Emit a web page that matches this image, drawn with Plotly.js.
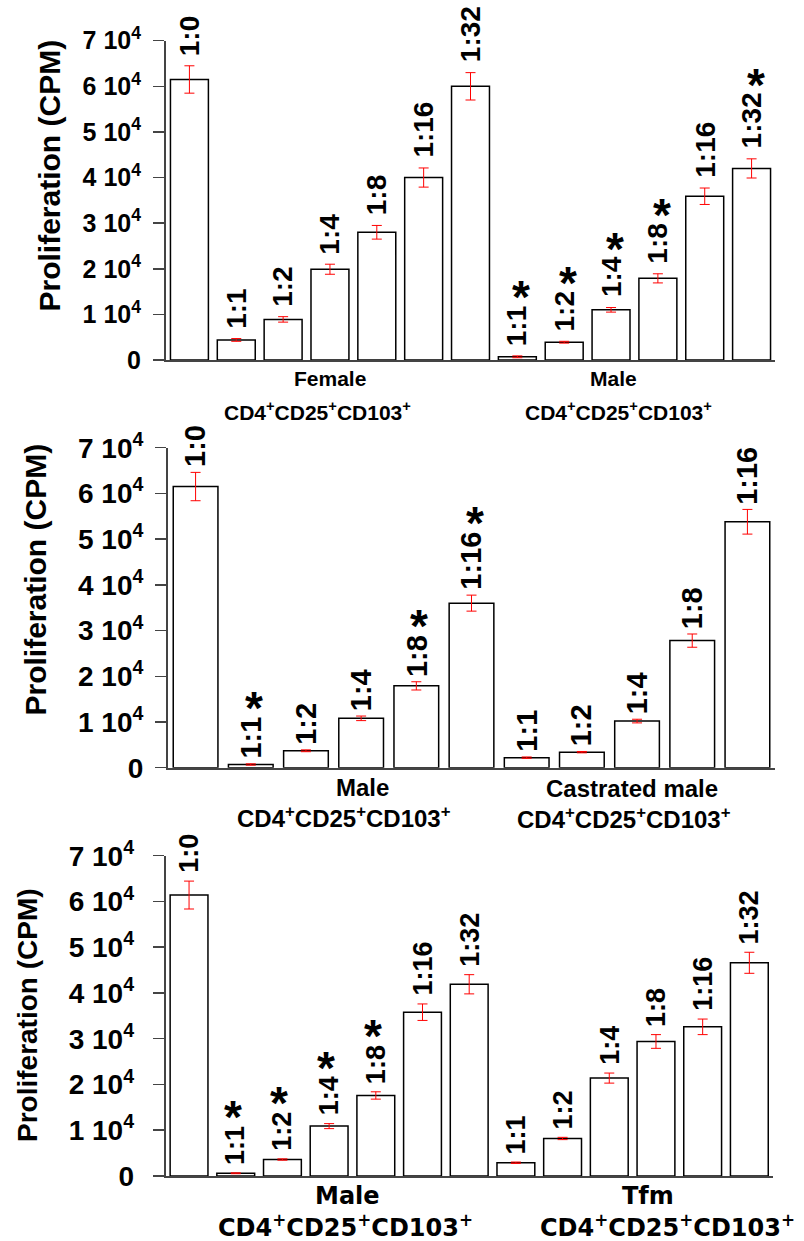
<!DOCTYPE html>
<html>
<head>
<meta charset="utf-8">
<script src="https://cdn.plot.ly/plotly-3.0.1.min.js"></script>
<style>
  html, body { margin: 0; padding: 0; background: #fff; }
  #chart { width: 804px; height: 1241px; }
</style>
</head>
<body>
<div id="chart"></div>
<script>
// ---------------- DATA ----------------
const yTickVals = [0, 10000, 20000, 30000, 40000, 50000, 60000, 70000];
const yTickText = ['0', '1 10<sup>4</sup>', '2 10<sup>4</sup>', '3 10<sup>4</sup>', '4 10<sup>4</sup>',
                   '5 10<sup>4</sup>', '6 10<sup>4</sup>', '7 10<sup>4</sup>'];
const yTitle = 'Proliferation (CPM)';
const cellLine = 'CD4<sup>+</sup>CD25<sup>+</sup>CD103<sup>+</sup>';

// Panel 1: Female vs Male
const p1Groups = ['Control', 'Female', 'Female', 'Female', 'Female', 'Female', 'Female',
                  'Male', 'Male', 'Male', 'Male', 'Male', 'Male'];
const p1Ratios = ['1:0', '1:1', '1:2', '1:4', '1:8', '1:16', '1:32', '1:1', '1:2', '1:4', '1:8', '1:16', '1:32'];
const p1Values = [61500, 4400, 8900, 19900, 28000, 40000, 60000, 700, 3900, 11000, 17900, 35900, 42000];
const p1Errors = [3000, 300, 600, 1100, 1500, 2100, 3000, 200, 200, 500, 1000, 1800, 2100];
const p1Signif = [false, false, false, false, false, false, false, true, true, true, true, false, true];
const p1GroupNames = ['Female', 'Male'];

// Panel 2: Male vs Castrated male
const p2Groups = ['Control', 'Male', 'Male', 'Male', 'Male', 'Male',
                  'Castrated male', 'Castrated male', 'Castrated male', 'Castrated male', 'Castrated male'];
const p2Ratios = ['1:0', '1:1', '1:2', '1:4', '1:8', '1:16', '1:1', '1:2', '1:4', '1:8', '1:16'];
const p2Values = [61500, 700, 3700, 10800, 17900, 36000, 2200, 3400, 10200, 27800, 53800];
const p2Errors = [3100, 150, 200, 500, 900, 1750, 150, 150, 400, 1450, 2700];
const p2Signif = [false, true, false, false, true, true, false, false, false, false, false];
const p2GroupNames = ['Male', 'Castrated male'];

// Panel 3: Male vs Tfm
const p3Groups = ['Control', 'Male', 'Male', 'Male', 'Male', 'Male', 'Male',
                  'Tfm', 'Tfm', 'Tfm', 'Tfm', 'Tfm', 'Tfm'];
const p3Ratios = ['1:0', '1:1', '1:2', '1:4', '1:8', '1:16', '1:32', '1:1', '1:2', '1:4', '1:8', '1:16', '1:32'];
const p3Values = [61400, 600, 3600, 10900, 17600, 35800, 41900, 2900, 8200, 21400, 29400, 32600, 46600];
const p3Errors = [3050, 100, 150, 550, 800, 1800, 2100, 150, 250, 1100, 1500, 1700, 2300];
const p3Signif = [false, true, true, true, true, false, false, false, false, false, false, false, false];
const p3GroupNames = ['Male', 'Tfm'];

// ---------------- LAYOUT HELPERS ----------------
const W = 804, H = 1241;
const px = x => x / W;
const py = y => 1 - y / H;
const ARIAL = 'Liberation Sans, Arial, sans-serif';
const DEJA = 'DejaVu Sans, sans-serif';
const AST_SIZE = 46;

const canvas = document.createElement('canvas');
const ctx = canvas.getContext('2d');
function textWidth(t, size, fam) {
  ctx.font = 'bold ' + size + 'px ' + fam;
  return ctx.measureText(t).width;
}

const panels = [
  { groups: p1Groups, ratios: p1Ratios, values: p1Values, errors: p1Errors, signif: p1Signif, names: p1GroupNames,
    xdom: [166, 775], ydom: [40.7, 360], tickSize: 25, standoff: 7, titleSize: 30, titlePos: [49, 175.5],
    labelSize: 28, labelGap: 8, astDx: 4, astGap: 10,
    grpFont: ARIAL, grpSize: 21,
    grp: [[330, 378], [613, 378]], cell: [[317, 411], [618, 411]] },
  { groups: p2Groups, ratios: p2Ratios, values: p2Values, errors: p2Errors, signif: p2Signif, names: p2GroupNames,
    xdom: [168, 775], ydom: [447.7, 767.7], tickSize: 28, standoff: 6, titleSize: 30, titlePos: [35, 579.5],
    labelSize: 29, labelGap: 3, astDx: 3, astGap: 11,
    grpFont: ARIAL, grpSize: 24,
    grp: [[362, 787], [632, 788]], cell: [[344, 817], [624, 818]] },
  { groups: p3Groups, ratios: p3Ratios, values: p3Values, errors: p3Errors, signif: p3Signif, names: p3GroupNames,
    xdom: [165.7, 772.7], ydom: [855.7, 1176], tickSize: 28, standoff: 13, titleSize: 28, titlePos: [27, 1015],
    labelSize: 27, labelGap: 6, astDx: -3, astGap: 11,
    grpFont: DEJA, grpSize: 24,
    grp: [[347, 1196], [648, 1196]], cell: [[345, 1226], [667, 1226]] }
];

const data = [];
const annotations = [];
const layout = {
  width: W, height: H,
  margin: { l: 0, r: 0, t: 0, b: 0, pad: 0 },
  paper_bgcolor: '#ffffff', plot_bgcolor: '#ffffff',
  showlegend: false,
  bargap: 0.19,
  font: { family: ARIAL, color: '#000000' },
  annotations: annotations
};

panels.forEach((p, k) => {
  const n = k === 0 ? '' : String(k + 1);
  const xa = 'x' + n, ya = 'y' + n;
  const ids = p.ratios.map((r, i) => p.groups[i] + ' ' + r + ' #' + i);

  data.push({
    type: 'bar', x: ids, y: p.values, xaxis: xa, yaxis: ya,
    marker: { color: '#ffffff', line: { color: '#000000', width: 1.5 } },
    error_y: { type: 'data', array: p.errors, visible: true, color: '#ff0000', thickness: 1, width: 5 },
    hoverinfo: 'skip'
  });

  layout['xaxis' + n] = {
    domain: [px(p.xdom[0]), px(p.xdom[1])], anchor: ya, type: 'category',
    categoryorder: 'array', categoryarray: ids,
    range: [-0.5, ids.length - 0.5],
    showticklabels: false, ticks: '', showgrid: false, zeroline: false,
    showline: true, linecolor: '#444444', linewidth: 2, fixedrange: true
  };
  layout['yaxis' + n] = {
    domain: [py(p.ydom[1]), py(p.ydom[0])], anchor: xa,
    range: [0, 70000], tickvals: yTickVals, ticktext: yTickText,
    ticks: 'outside', ticklen: 11, tickwidth: 1.5, tickcolor: '#444444',
    ticklabelstandoff: p.standoff,
    tickfont: { family: ARIAL, size: p.tickSize, weight: 'bold', color: '#000000' },
    showline: true, linecolor: '#444444', linewidth: 2,
    showgrid: false, zeroline: false, fixedrange: true
  };

  // y title
  annotations.push({
    text: yTitle, xref: 'paper', yref: 'paper', x: px(p.titlePos[0]), y: py(p.titlePos[1]),
    xanchor: 'center', yanchor: 'middle', textangle: -90, showarrow: false,
    font: { family: ARIAL, size: p.titleSize, weight: 'bold', color: '#000000' }
  });

  // ratio labels + asterisks
  ids.forEach((id, i) => {
    const top = p.values[i] + p.errors[i];
    annotations.push({
      text: p.ratios[i], xref: xa, yref: ya, x: id, y: top,
      xanchor: 'center', yanchor: 'bottom', textangle: -90, showarrow: false,
      yshift: p.labelGap,
      font: { family: ARIAL, size: p.labelSize, weight: 'bold', color: '#000000' }
    });
    if (p.signif[i]) {
      const w = textWidth(p.ratios[i], p.labelSize, ARIAL);
      annotations.push({
        text: '*', xref: xa, yref: ya, x: id, y: top,
        xanchor: 'center', yanchor: 'middle', showarrow: false,
        xshift: p.astDx, yshift: p.labelGap + w + p.astGap,
        font: { family: ARIAL, size: AST_SIZE, weight: 'bold', color: '#000000' }
      });
    }
  });

  // group labels
  p.names.forEach((name, j) => {
    annotations.push({
      text: name, xref: 'paper', yref: 'paper', x: px(p.grp[j][0]), y: py(p.grp[j][1]),
      xanchor: 'center', yanchor: 'middle', showarrow: false,
      font: { family: p.grpFont, size: p.grpSize, weight: 'bold', color: '#000000' }
    });
    annotations.push({
      text: cellLine, xref: 'paper', yref: 'paper', x: px(p.cell[j][0]), y: py(p.cell[j][1]),
      xanchor: 'center', yanchor: 'middle', showarrow: false,
      font: { family: p.grpFont, size: p.grpSize, weight: 'bold', color: '#000000' }
    });
  });
});

Plotly.newPlot('chart', data, layout, { staticPlot: true, displayModeBar: false });
</script>
</body>
</html>
